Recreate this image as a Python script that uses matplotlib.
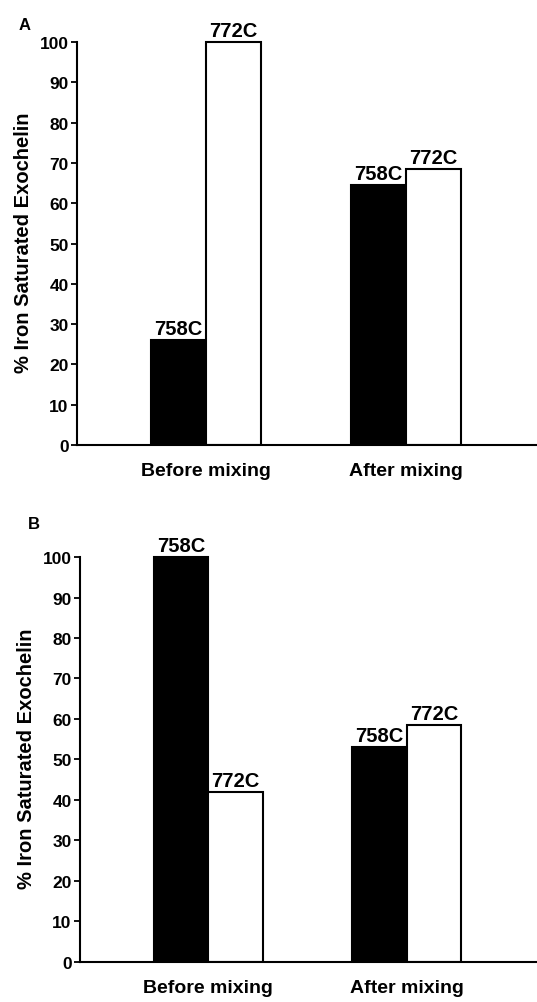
import matplotlib.pyplot as plt
import numpy as np

plt.rcParams['font.family'] = ['Liberation Sans', 'DejaVu Sans']
plt.rcParams['font.weight'] = 'bold'

# data
groups = ['Before mixing', 'After mixing']
strains = ['758C', '772C']
a_758 = [26, 64.5]
a_772 = [100, 68.5]
b_758 = [100, 53]
b_772 = [42, 58.5]
yticks = list(range(0, 101, 10))

fig = plt.figure(figsize=(5.37, 10.03), dpi=100)

# axes rectangles in figure fractions
ax_a = fig.add_axes([0.1434, 0.5553, 0.8566, 0.4058])
ax_b = fig.add_axes([0.1490, 0.0399, 0.8510, 0.4078])

width = 0.275
x = np.arange(len(groups))


def draw_panel(ax, v758, v772):
    b1 = ax.bar(x - width / 2, v758, width, color='black', edgecolor='black', linewidth=1.5)
    b2 = ax.bar(x + width / 2, v772, width, color='white', edgecolor='black', linewidth=1.5)
    for bars, name in [(b1, strains[0]), (b2, strains[1])]:
        for rect in bars:
            ax.annotate(name, (rect.get_x() + rect.get_width() / 2, rect.get_height()),
                        xytext=(0, 1.5), textcoords='offset points',
                        ha='center', va='bottom', fontsize=14.5, fontweight='bold')
    ax.set_ylim(0, 101)
    ax.set_xlim(-0.645, 1.655)
    ax.set_yticks(yticks)
    ax.set_xticks(x)
    ax.set_xticklabels(groups, fontsize=14, fontweight='bold')
    ax.tick_params(axis='x', length=0, pad=12)
    ax.tick_params(axis='y', direction='out', length=4, width=1.3, pad=2, labelsize=12.5)
    for lab in ax.get_yticklabels():
        lab.set_fontweight('bold')
    ax.spines['top'].set_visible(False)
    ax.spines['right'].set_visible(False)
    ax.spines['left'].set_linewidth(1.5)
    ax.spines['bottom'].set_linewidth(1.5)
    ax.spines['left'].set_bounds(0, 100)
    ax.set_ylabel('% Iron Saturated Exochelin', fontsize=14.5, fontweight='bold', labelpad=5)


draw_panel(ax_a, a_758, a_772)
draw_panel(ax_b, b_758, b_772)

fig.text(19 / 537, 1 - 25 / 1003, 'A', fontsize=12, fontweight='bold', ha='left', va='center')
fig.text(28 / 537, 1 - 525 / 1003, 'B', fontsize=12, fontweight='bold', ha='left', va='center')

fig.savefig('out.png', dpi=100)
